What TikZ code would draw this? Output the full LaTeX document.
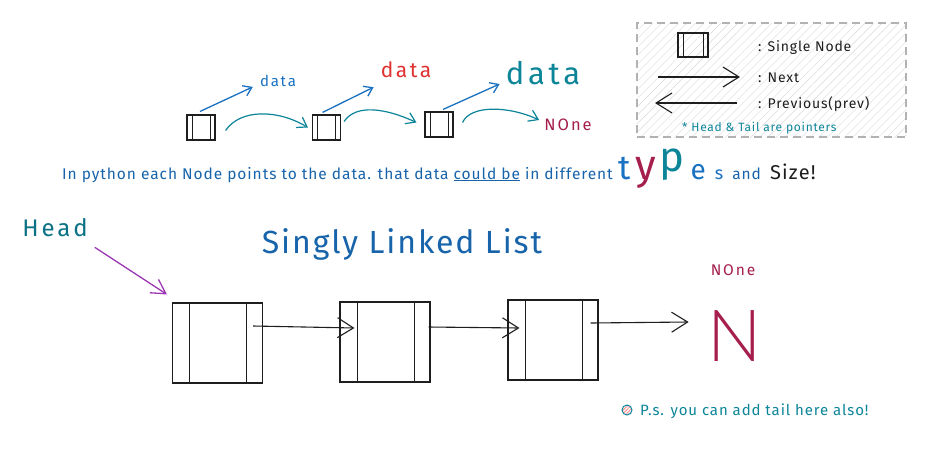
\documentclass[tikz,border=0pt]{standalone}
\usepackage{fontspec}
\setmainfont{Fira Sans}
\newfontfamily\hand[LetterSpace=6]{Fira Sans}
\newfontfamily\handw[LetterSpace=12]{Fira Sans}
\IfFontExistsTF{FiraSans-ExtraLight.otf}{\newfontfamily\thinfont{FiraSans-ExtraLight.otf}}{%
  \IfFontExistsTF{FiraSans-Light.otf}{\newfontfamily\thinfont{FiraSans-Light.otf}}{%
    \IfFontExistsTF{Lato Light}{\newfontfamily\thinfont{Lato Light}}{\newfontfamily\thinfont{Fira Sans}}}}
\usetikzlibrary{arrows.meta,patterns.meta}
\definecolor{cblue}{HTML}{1971C2}
\definecolor{cdblue}{HTML}{1864AB}
\definecolor{cred}{HTML}{E03131}
\definecolor{cteal}{HTML}{0C8599}
\definecolor{chead}{HTML}{0B7285}
\definecolor{ccrim}{HTML}{A61E4D}
\definecolor{cpurp}{HTML}{9C36B5}
\definecolor{cink}{HTML}{1E1E1E}
\definecolor{cpink}{HTML}{FF8787}
\newcommand{\fs}[1]{\fontsize{#1}{#1}\selectfont}
\tikzset{
  snode/.style={draw=cink, line width=1.1pt, rectangle, inner sep=0pt,
    minimum width=28pt, minimum height=25pt,
    path picture={
      \draw[cink,line width=1pt] ([xshift=5pt]path picture bounding box.north west) -- ([xshift=5pt]path picture bounding box.south west);
      \draw[cink,line width=1pt] ([xshift=-5pt]path picture bounding box.north east) -- ([xshift=-5pt]path picture bounding box.south east);}},
  lnode/.style={draw=cink, line width=1.1pt, rectangle, inner sep=0pt,
    minimum width=90pt, minimum height=80pt,
    path picture={
      \draw[cink,line width=1pt] ([xshift=17pt]path picture bounding box.north west) -- ([xshift=17pt]path picture bounding box.south west);
      \draw[cink,line width=1pt] ([xshift=-16pt]path picture bounding box.north east) -- ([xshift=-16pt]path picture bounding box.south east);}},
  blk/.style={draw=cink, line width=1.1pt, -{Straight Barb[length=16pt,width=20pt]}},
  tarr/.style={draw=cteal, line width=1.2pt, -{Straight Barb[length=9pt,width=12pt]}},
  barr/.style={draw=cblue, line width=1.3pt, -{Straight Barb[length=8pt,width=11pt]}},
  parr/.style={draw=cpurp, line width=1.3pt, -{Straight Barb[length=14pt,width=16pt]}},
  lbl/.style={inner sep=0pt, anchor=base west},
}
\begin{document}
\begin{tikzpicture}[x=1pt,y=-1pt]
\fill[white] (0,0) rectangle (934,464);
\useasboundingbox (0,0) rectangle (934,464);

% ---- top small example ----
\node[snode] (n1) at (201,127.5) {};
\node[snode] (n2) at (326.5,127.5) {};
\node[snode] (n3) at (439,124.5) {};
\node[text=cblue, font=\handw\fs{15}, inner sep=0pt] (d1) at (278,81) {data};
\node[text=cred, font=\handw\fs{21}, inner sep=0pt] (d2) at (406,70) {data};
\node[text=cteal, font=\handw\fs{31}, inner sep=0pt] (d3) at (543,73) {data};
\node[text=ccrim, font=\handw\fs{16.5}, inner sep=0pt] (none1) at (568,125) {NOne};

\draw[barr] ([xshift=-1pt,yshift=3pt]n1.north) -- ([shift={(-7pt,0pt)}]d1.south west);
\draw[barr] ([xshift=-4pt,yshift=2pt]n2.north) -- ([shift={(-7pt,-9pt)}]d2.south west);
\draw[barr] ([xshift=4pt,yshift=2pt]n3.north) -- ([shift={(-6pt,1pt)}]d3.south west);

\draw[tarr] ([shift={(10pt,-3pt)}]n1.east) .. controls +(15,-22) and +(-30,-18) .. ([xshift=-4pt]n2.west);
\draw[tarr] ([shift={(3pt,6pt)}]n2.east) .. controls +(12,-18) and +(-30,-14) .. ([shift={(-8pt,2pt)}]n3.west);
\draw[tarr] ([shift={(9pt,2pt)}]n3.east) .. controls +(8,-18) and +(-30,-14) .. ([shift={(-5pt,5pt)}]none1.west);

% ---- legend ----
\node[draw=gray!60, line width=1.1pt, dash pattern=on 8pt off 5pt, rectangle, inner sep=0pt,
      minimum width=269pt, minimum height=114pt,
      pattern={Lines[angle=45,distance=6pt,line width=0.4pt]}, pattern color=gray!30] (legend) at (771.5,80) {};
\node[snode, minimum width=30pt, minimum height=24pt] (ln) at (693,45) {};
\node[lbl, text=cink, font=\hand\fs{14}] (lt1) at (758,51) {: Single Node};
\node[lbl, text=cink, font=\hand\fs{14}] (lt2) at (758,82) {: Next};
\node[lbl, text=cink, font=\hand\fs{14}] (lt3) at (758,108) {: Previous(prev)};
\node[lbl, text=cteal, font=\hand\fs{12}] (lt4) at (682,131) {* Head \& Tail are pointers};
\coordinate (nx1) at (658,77);
\coordinate (nx2) at (740,77);
\coordinate (pv1) at (737,103);
\coordinate (pv2) at (655,103);
\draw[blk] (nx1) -- (nx2);
\draw[blk] (pv1) -- (pv2);

% ---- sentence ----
\node[lbl, font=\hand\fs{15.5}] (sent) at (62,179) {\textcolor{cdblue}{In python each Node points to the data. that data \underline{could be} in different}\hspace{6pt}%
{\color{cblue}\fs{34}t}\hspace{4pt}{\color{ccrim}\fs{42}y}\hspace{4pt}{\color{cteal}\fs{42}\raisebox{8pt}{p}}\hspace{6pt}{\color{cblue}\fs{28}e}\hspace{9pt}{\color{cblue}\fs{18}s}\hspace{9pt}\textcolor{cdblue}{and}\hspace{9pt}{\color{cink}\fs{20}Size!}};

% ---- singly linked list ----
\node[text=chead, font=\handw\fs{24}, inner sep=0pt] (head) at (55,228) {Head};
\node[text=cdblue, font=\hand\fs{32}, inner sep=0pt] (title) at (402,244) {Singly Linked List};

\node[lnode] (A) at (217.5,343) {};
\node[lnode] (B) at (385,342) {};
\node[lnode] (C) at (553,340) {};
\node[text=ccrim, font=\handw\fs{15.5}, inner sep=0pt] (none2) at (733,270) {NOne};
\node[text=ccrim, font=\thinfont\fs{72}, inner sep=0pt] (bigN) at (735,336) {N};

\draw[parr] ([shift={(7pt,-10pt)}]head.south east) -- ([shift={(-5pt,8pt)}]A.north west);
\draw[blk] ([shift={(-10pt,17pt)}]A.east) -- ([shift={(15pt,14pt)}]B.west);
\draw[blk] ([shift={(-2pt,15pt)}]B.east) -- ([shift={(12pt,12pt)}]C.west);
\draw[blk] ([shift={(-8pt,17pt)}]C.east) -- ([shift={(-19pt,14pt)}]bigN.west);

% ---- P.s. note ----
\node[circle, draw=cteal, line width=1pt, minimum size=10pt, inner sep=0pt,
      pattern={Lines[angle=45,distance=2.5pt,line width=0.8pt]}, pattern color=cpink] (icon) at (627,410) {};
\node[lbl, text=cteal, font=\hand\fs{15}] (ps) at (640,415) {P.s. you can add tail here also!};
\end{tikzpicture}
\end{document}
